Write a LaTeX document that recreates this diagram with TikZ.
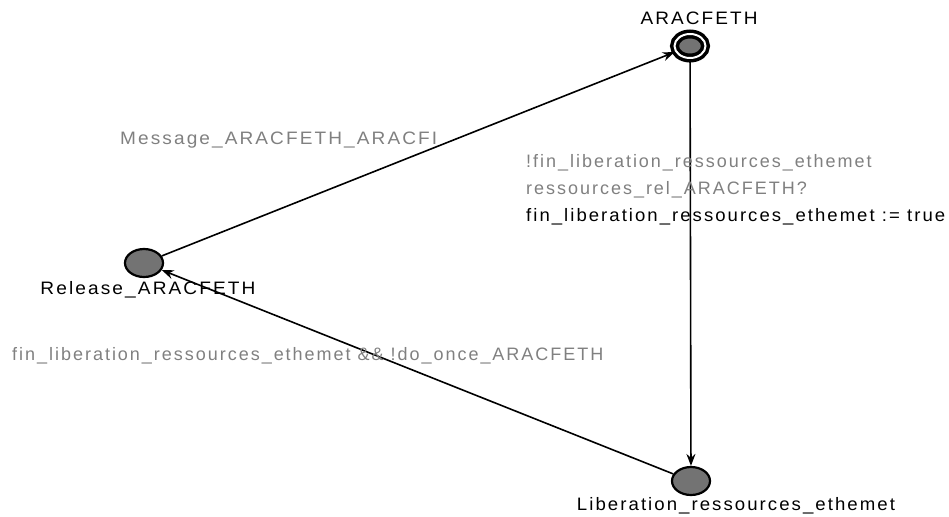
\documentclass[tikz,border=0pt]{standalone}
\usepackage{fontspec}
\usepackage{graphicx}
\setmainfont{Liberation Sans}
\newfontfamily\labelfont[LetterSpace=11]{Liberation Sans}
\usetikzlibrary{arrows.meta,shapes.geometric}
% stretch a label horizontally to a given width, keeping its height
\newcommand\fitto[2]{\resizebox{#1}{\height}{#2}}
\begin{document}
\begin{tikzpicture}[x=1pt,y=-1pt,
  state/.style={ellipse,draw=black,line width=2.2pt,fill=black!55,minimum width=38pt,minimum height=28pt,inner sep=0pt},
  initstate/.style={ellipse,draw=black,line width=3.5pt,fill=black!55,minimum width=31pt,minimum height=24pt,inner sep=0pt,double=white,double distance=2pt},
  statename/.style={font=\labelfont\fontsize{18}{20}\selectfont,text=black,inner sep=0pt},
  guard/.style={font=\labelfont\fontsize{18}{20}\selectfont,text=black!50,inner sep=0pt,anchor=west},
  update/.style={font=\labelfont\fontsize{18}{20}\selectfont,text=black,inner sep=0pt,anchor=west},
  trans/.style={draw=black,line width=1.6pt,-{Stealth[length=12pt,width=9pt,inset=4pt]}}]
\useasboundingbox (0,0) rectangle (949,516);
% locations
\node[initstate] (ara) at (690,46) {};
\node[state] (rel) at (144,263) {};
\node[state] (lib) at (691,481) {};
% location names
\node[statename] (araname) at (699,18) {\fitto{117pt}{ARACFETH}};
\node[statename] (relname) at (148,290) {\fitto{215pt}{Release\_ARACFETH}};
\node[statename] (libname) at (736,506) {\fitto{318pt}{Liberation\_ressources\_ethemet}};
% transitions
\draw[trans] (rel) -- (ara);
\draw[trans] (ara) -- (lib);
\draw[trans] (lib) -- (rel);
% transition labels
\node[guard] (msg) at (120,140) {\fitto{317pt}{Message\_ARACFETH\_ARACFI}};
\node[guard] (g1) at (526,163) {!fin\_liberation\_ressources\_ethemet};
\node[guard] (s1) at (526,190) {ressources\_rel\_ARACFETH?};
\node[update] (u1) at (526,217) {\fitto{419pt}{fin\_liberation\_ressources\_ethemet := true}};
\node[guard] (g2) at (12,356) {fin\_liberation\_ressources\_ethemet \&\& !do\_once\_ARACFETH};
\end{tikzpicture}
\end{document}
